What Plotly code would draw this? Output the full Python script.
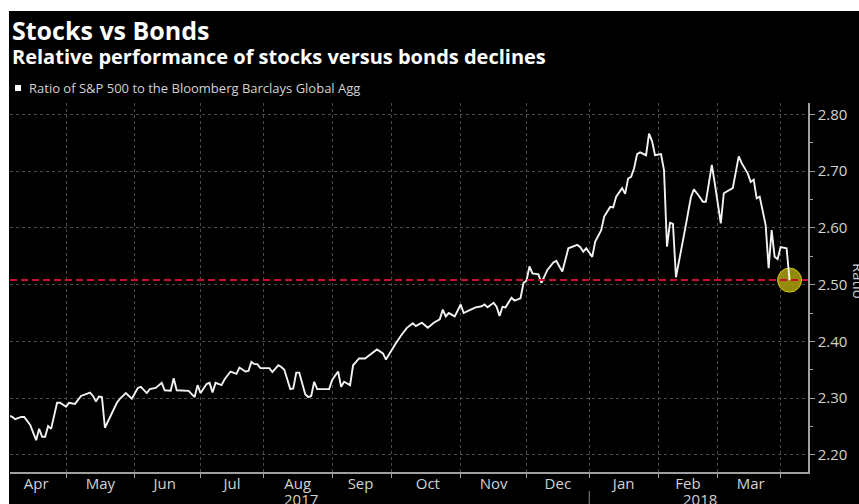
import plotly.graph_objects as go

# Ratio of the S&P 500 to the Bloomberg Barclays Global Agg (trading days)
dates = [
    "2017-04-04", "2017-04-05", "2017-04-06", "2017-04-10", "2017-04-11", "2017-04-13",
    "2017-04-17", "2017-04-18", "2017-04-19", "2017-04-20", "2017-04-21", "2017-04-24",
    "2017-04-26", "2017-04-27", "2017-05-01", "2017-05-02", "2017-05-04", "2017-05-08",
    "2017-05-11", "2017-05-12", "2017-05-15", "2017-05-16", "2017-05-17", "2017-05-18",
    "2017-05-22", "2017-05-24", "2017-05-25", "2017-05-29", "2017-05-31", "2017-06-02",
    "2017-06-05", "2017-06-07", "2017-06-08", "2017-06-12", "2017-06-14", "2017-06-15",
    "2017-06-19", "2017-06-20", "2017-06-21", "2017-06-27", "2017-06-29", "2017-06-30",
    "2017-07-03", "2017-07-05", "2017-07-06", "2017-07-07", "2017-07-10", "2017-07-12",
    "2017-07-13", "2017-07-17", "2017-07-19", "2017-07-20", "2017-07-24", "2017-07-25",
    "2017-07-26", "2017-07-27", "2017-07-28", "2017-07-31", "2017-08-03", "2017-08-04",
    "2017-08-08", "2017-08-09", "2017-08-10", "2017-08-14", "2017-08-15", "2017-08-16",
    "2017-08-17", "2017-08-21", "2017-08-22", "2017-08-23", "2017-08-24", "2017-08-25",
    "2017-08-29", "2017-08-31", "2017-09-01", "2017-09-05", "2017-09-06", "2017-09-07",
    "2017-09-11", "2017-09-12", "2017-09-14", "2017-09-18", "2017-09-22", "2017-09-26",
    "2017-09-27", "2017-09-29", "2017-10-02", "2017-10-04", "2017-10-06", "2017-10-10",
    "2017-10-11", "2017-10-13", "2017-10-17", "2017-10-19", "2017-10-23", "2017-10-24",
    "2017-10-25", "2017-10-26", "2017-10-30", "2017-11-01", "2017-11-02", "2017-11-06",
    "2017-11-08", "2017-11-10", "2017-11-13", "2017-11-14", "2017-11-16", "2017-11-17",
    "2017-11-20", "2017-11-21", "2017-11-22", "2017-11-24", "2017-11-27", "2017-11-29",
    "2017-11-30", "2017-12-01", "2017-12-04", "2017-12-05", "2017-12-07", "2017-12-08",
    "2017-12-12", "2017-12-14", "2017-12-15", "2017-12-18", "2017-12-19", "2017-12-21",
    "2017-12-22", "2017-12-26", "2017-12-27", "2017-12-28", "2017-12-29", "2018-01-02",
    "2018-01-03", "2018-01-05", "2018-01-08", "2018-01-09", "2018-01-10", "2018-01-11",
    "2018-01-12", "2018-01-16", "2018-01-17", "2018-01-18", "2018-01-19", "2018-01-22",
    "2018-01-23", "2018-01-24", "2018-01-26", "2018-01-29", "2018-01-30", "2018-01-31",
    "2018-02-02", "2018-02-05", "2018-02-06", "2018-02-07", "2018-02-08", "2018-02-09",
    "2018-02-13", "2018-02-14", "2018-02-16", "2018-02-19", "2018-02-21", "2018-02-22",
    "2018-02-23", "2018-02-27", "2018-02-28", "2018-03-02", "2018-03-05", "2018-03-07",
    "2018-03-08", "2018-03-12", "2018-03-13", "2018-03-15", "2018-03-16", "2018-03-19",
    "2018-03-20", "2018-03-21", "2018-03-23", "2018-03-26", "2018-03-27", "2018-03-28",
    "2018-03-29", "2018-03-30", "2018-04-03", "2018-04-04",
]
ratio = [
    2.269, 2.267, 2.263, 2.267, 2.267, 2.253,
    2.226, 2.246, 2.232, 2.232, 2.251, 2.246,
    2.292, 2.292, 2.285, 2.292, 2.290, 2.304,
    2.310, 2.304, 2.294, 2.303, 2.302, 2.248,
    2.270, 2.292, 2.299, 2.309, 2.299, 2.318,
    2.320, 2.309, 2.316, 2.318, 2.327, 2.314,
    2.313, 2.335, 2.314, 2.313, 2.302, 2.323,
    2.309, 2.325, 2.327, 2.310, 2.327, 2.323,
    2.333, 2.347, 2.343, 2.354, 2.347, 2.348,
    2.364, 2.360, 2.360, 2.353, 2.353, 2.346,
    2.358, 2.355, 2.350, 2.316, 2.317, 2.345,
    2.345, 2.307, 2.302, 2.304, 2.329, 2.316,
    2.316, 2.316, 2.332, 2.347, 2.320, 2.329,
    2.323, 2.358, 2.370, 2.370, 2.386, 2.379,
    2.368, 2.386, 2.394, 2.410, 2.424, 2.432,
    2.427, 2.433, 2.424, 2.433, 2.439, 2.456,
    2.444, 2.450, 2.444, 2.465, 2.450, 2.455,
    2.460, 2.462, 2.465, 2.460, 2.468, 2.461,
    2.445, 2.461, 2.460, 2.477, 2.472, 2.476,
    2.503, 2.507, 2.532, 2.520, 2.518, 2.503,
    2.526, 2.539, 2.542, 2.532, 2.523, 2.564,
    2.566, 2.570, 2.566, 2.558, 2.564, 2.549,
    2.576, 2.596, 2.620, 2.628, 2.637, 2.636,
    2.655, 2.670, 2.660, 2.687, 2.690, 2.705,
    2.730, 2.733, 2.728, 2.766, 2.753, 2.728,
    2.730, 2.702, 2.567, 2.609, 2.607, 2.513,
    2.573, 2.596, 2.654, 2.668, 2.654, 2.646,
    2.646, 2.711, 2.678, 2.608, 2.661, 2.667,
    2.670, 2.726, 2.714, 2.696, 2.681, 2.685,
    2.652, 2.655, 2.605, 2.529, 2.596, 2.549,
    2.545, 2.566, 2.564, 2.508,
]

# month names sit in the middle of each month's trading days
month_labels = ["Apr", "May", "Jun", "Jul", "Aug", "Sep",
                "Oct", "Nov", "Dec", "Jan", "Feb", "Mar"]
month_mids = ["2017-04-17", "2017-05-16 12:00", "2017-06-15", "2017-07-17 12:00",
              "2017-08-16 12:00", "2017-09-14 12:00", "2017-10-17", "2017-11-16",
              "2017-12-15 12:00", "2018-01-16 12:00", "2018-02-15", "2018-03-16"]
year_labels = ["2017", "2018"]
year_pos = [0.3647, 0.8647]

y_ticks = [2.20, 2.30, 2.40, 2.50, 2.60, 2.70, 2.80]
x_range = ["2017-04-04 06:00", "2018-04-12 04:00"]
y_range = [2.17, 2.82]

title = "Stocks vs Bonds"
subtitle = "Relative performance of stocks versus bonds declines"
series_name = "Ratio of S&P 500 to the Bloomberg Barclays Global Agg"

BG = "#000000"
TEXT = "#d2d2d2"
AXIS = "#a0a0a0"
GRID = "#4a4a4a"
FONT = "Open Sans"

fig = go.Figure()

# highlight on the latest reading
fig.add_trace(go.Scatter(
    x=[dates[-1]], y=[ratio[-1]], mode="markers",
    marker=dict(size=24, color="rgba(168,156,10,0.88)",
                line=dict(color="#d8c814", width=1)),
    hoverinfo="skip", showlegend=False,
))

fig.add_trace(go.Scatter(
    x=dates, y=ratio, mode="lines", name=series_name,
    line=dict(color="#f2f2f2", width=1.9), showlegend=False,
))

# reference line at the latest value
fig.add_shape(type="line", xref="x domain", x0=0, x1=1,
              yref="y", y0=ratio[-1], y1=ratio[-1],
              line=dict(color="#c8102e", width=2, dash="7px,4px"))

# white page edge on the top and left
fig.add_shape(type="rect", xref="paper", yref="paper",
              x0=-0.02, x1=1.1, y0=1.2493, y1=1.30,
              fillcolor="white", line=dict(width=0), layer="above")
fig.add_shape(type="rect", xref="paper", yref="paper",
              x0=-0.02, x1=-0.00125, y0=-0.12, y1=1.30,
              fillcolor="white", line=dict(width=0), layer="above")

# legend swatch
fig.add_shape(type="rect", xref="paper", yref="paper",
              x0=0.0063, x1=0.0138, y0=1.0325, y1=1.0488,
              fillcolor="white", line=dict(width=0))

# divider between the years under the axis
fig.add_shape(type="line", xref="x", yref="paper",
              x0="2018-01-01", x1="2018-01-01", y0=-0.0515, y1=-0.09,
              line=dict(color="#8a8a8a", width=1))

annotations = [
    dict(text="<b>%s</b>" % title, x=0.0005, y=1.198, xanchor="left", yanchor="middle",
         font=dict(family=FONT, size=25, color="white")),
    dict(text="<b>%s</b>" % subtitle, x=0.0005, y=1.1265, xanchor="left", yanchor="middle",
         font=dict(family=FONT, size=20, color="white")),
    dict(text=series_name, x=0.021, y=1.0407, xanchor="left", yanchor="middle",
         font=dict(family=FONT, size=13, color=TEXT)),
    dict(text="Ratio", x=1.0637, y=0.518, xanchor="center", yanchor="middle",
         textangle=90, font=dict(family=FONT, size=15, color=TEXT)),
]
for label, xpos in zip(year_labels, year_pos):
    annotations.append(dict(text=label, x=xpos, y=-0.0735, xanchor="center", yanchor="middle",
                            font=dict(family=FONT, size=15, color=TEXT)))
for a in annotations:
    a.update(xref="paper", yref="paper", showarrow=False)

fig.update_layout(
    width=859, height=504,
    margin=dict(l=10, r=51, t=103, b=32),
    paper_bgcolor=BG, plot_bgcolor=BG,
    font=dict(family=FONT, color=TEXT),
    showlegend=False,
    annotations=annotations,
    xaxis=dict(
        type="date", range=x_range,
        rangebreaks=[dict(bounds=["sat", "mon"])],
        tickmode="array", tickvals=month_mids, ticktext=month_labels,
        ticks="", showgrid=False, ticklabelstandoff=-3,
        minor=dict(tickmode="linear", dtick="M1", tick0="2017-01-01",
                   ticks="outside", ticklen=4, tickcolor=AXIS,
                   showgrid=True, gridcolor=GRID, griddash="dot", gridwidth=1),
        showline=True, linecolor=AXIS, linewidth=1.5,
        zeroline=False, tickfont=dict(size=15, color=TEXT),
    ),
    yaxis=dict(
        side="right", range=y_range, tickvals=y_ticks, tickformat=".2f",
        ticks="outside", ticklen=5, tickcolor=AXIS,
        minor=dict(dtick=0.05, ticklen=3, tickcolor=AXIS, showgrid=False),
        showline=True, linecolor=AXIS, linewidth=1.5,
        showgrid=True, gridcolor=GRID, griddash="dot", gridwidth=1,
        zeroline=False, tickfont=dict(size=15, color=TEXT),
    ),
)

fig.write_html("out.html")
